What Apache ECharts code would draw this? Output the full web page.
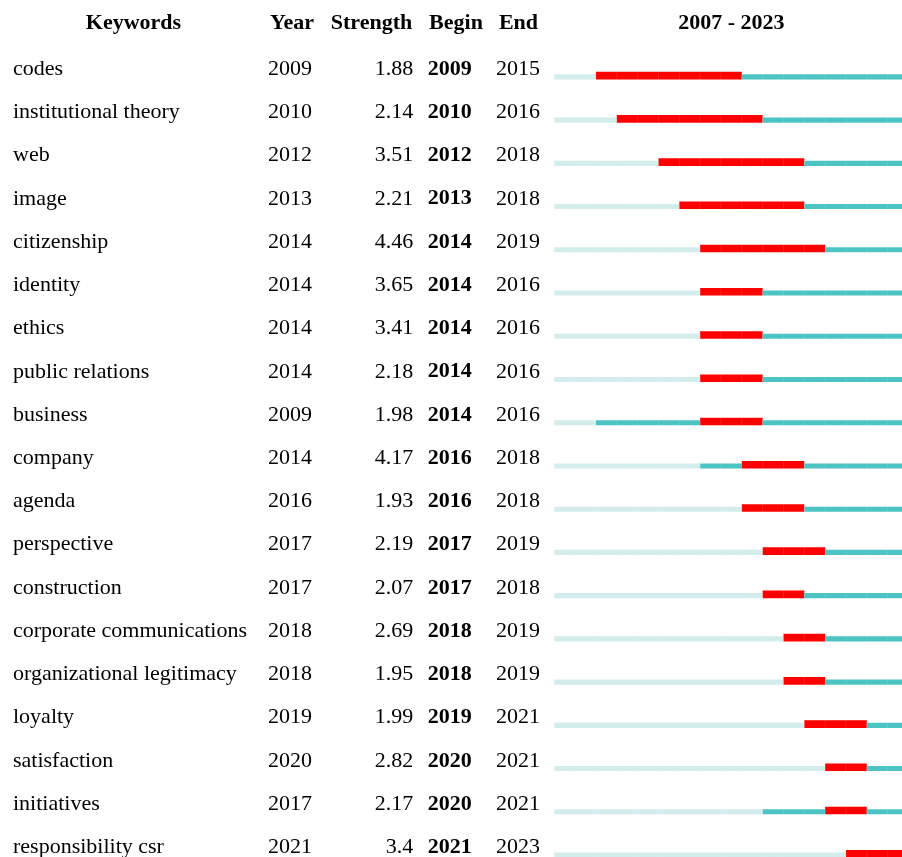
<!DOCTYPE html>
<html>
<head>
<meta charset="utf-8">
<script src="https://cdn.jsdelivr.net/npm/echarts@6/dist/echarts.min.js"></script>
<style>
html,body{margin:0;padding:0;background:#fff;}
#chart{width:902px;height:857px;}
</style>
</head>
<body>
<div id="chart"></div>
<script>
// ---- data ----
var keywords = ['codes','institutional theory','web','image','citizenship','identity','ethics','public relations','business','company','agenda','perspective','construction','corporate communications','organizational legitimacy','loyalty','satisfaction','initiatives','responsibility csr'];
var years     = [2009,2010,2012,2013,2014,2014,2014,2014,2009,2014,2016,2017,2017,2018,2018,2019,2020,2017,2021];
var strengths = [1.88,2.14,3.51,2.21,4.46,3.65,3.41,2.18,1.98,4.17,1.93,2.19,2.07,2.69,1.95,1.99,2.82,2.17,3.4];
var begins    = [2009,2010,2012,2013,2014,2014,2014,2014,2014,2016,2016,2017,2017,2018,2018,2019,2020,2020,2021];
var ends      = [2015,2016,2018,2018,2019,2016,2016,2016,2016,2018,2018,2019,2018,2019,2019,2021,2021,2021,2023];
var rangeStart = 2007, rangeEnd = 2023;
var headers = ['Keywords','Year','Strength','Begin','End', rangeStart + ' - ' + rangeEnd];

var FONT = "'Liberation Serif','Times New Roman',serif";
var RED = '#FF0000', TEAL = '#4DC4C4', LIGHT = '#D3ECEC';

var seriesData = keywords.map(function(k, i){ return [begins[i], i, years[i], ends[i]]; });

function hdr(w){ return {width:w, align:'center', fontFamily:FONT, fontWeight:'bold', fontSize:22, lineHeight:24, color:'#000'}; }

var chart = echarts.init(document.getElementById('chart'), null, {renderer:'canvas'});
chart.setOption({
  backgroundColor:'#fff',
  animation:false,
  title:{
    left:13, top:11, padding:0,
    text:'{k|'+headers[0]+'}{y|'+headers[1]+'}{s|'+headers[2]+'}{b|'+headers[3]+'}{e|'+headers[4]+'}{r|'+headers[5]+'}',
    textStyle:{
      rich:{ k:hdr(241), y:hdr(76), s:hdr(83), b:hdr(86), e:hdr(39), r:hdr(386.6) }
    }
  },
  grid:{left:554.3, width:354.2, top:47.5, height:821.4, containLabel:false, outerBoundsMode:'none'},
  xAxis:{type:'value', min:rangeStart, max:rangeEnd+1, show:false},
  yAxis:{
    type:'category', inverse:true, data:keywords,
    axisLine:{show:false}, axisTick:{show:false}, splitLine:{show:false},
    axisLabel:{
      interval:0, align:'right', margin:14.3,
      formatter:function(v, i){
        return '{k|'+v+'}{y|'+years[i]+'}{s|'+strengths[i]+'}{b|'+begins[i]+'}{e|'+ends[i]+'}';
      },
      rich:{
        k:{width:255, align:'left', fontFamily:FONT, fontSize:22, lineHeight:24, color:'#000'},
        y:{width:61, align:'left', fontFamily:FONT, fontSize:22, lineHeight:24, color:'#000'},
        s:{width:84.3, align:'right', fontFamily:FONT, fontSize:22, lineHeight:24, color:'#000'},
        b:{width:58.4, align:'right', fontFamily:FONT, fontSize:22, fontWeight:'bold', lineHeight:24, color:'#000'},
        e:{width:68.3, align:'right', fontFamily:FONT, fontSize:22, lineHeight:24, color:'#000'}
      }
    }
  },
  series:[{
    type:'custom',
    clip:false,
    encode:{x:0, y:1},
    data:seriesData,
    renderItem:function(params, api){
      var b = api.value(0), idx = api.value(1), yr = api.value(2), e = api.value(3);
      var segs = [];
      if (yr > rangeStart) segs.push([rangeStart, yr, LIGHT, 5.7]);
      if (b > yr) segs.push([yr, b, TEAL, 5.7]);
      segs.push([b, e+1, RED, 3.2]);
      if (e+1 <= rangeEnd) segs.push([e+1, rangeEnd+1, TEAL, 5.7]);
      var children = [];
      segs.forEach(function(s){
        var p0 = api.coord([s[0], idx]);
        var p1 = api.coord([s[1], idx]);
        children.push({
          type:'rect',
          shape:{x:p0[0], y:p0[1]+s[3]-0.5, width:p1[0]-p0[0], height:10.8-s[3]},
          style:{fill:s[2]}
        });
      });
      for (var t = rangeStart+1; t <= rangeEnd; t++) {
        var q = api.coord([t, idx]);
        var top = (t > b && t <= e) ? 3.2 : 5.7;
        children.push({
          type:'line',
          shape:{x1:q[0], y1:q[1]+top-0.5, x2:q[0], y2:q[1]+10.3},
          style:{stroke:'rgba(255,255,255,0.12)', lineWidth:1}
        });
      }
      return {type:'group', children:children};
    }
  }]
});
</script>
</body>
</html>
